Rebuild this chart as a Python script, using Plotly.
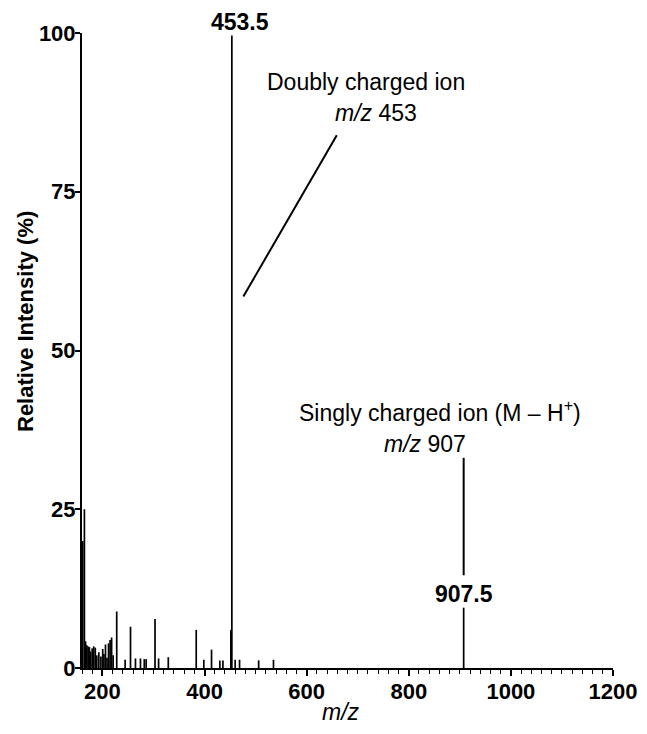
import plotly.graph_objects as go

# Peak list (m/z, relative intensity %)
mz = [161.5, 164.7, 167, 169.5, 172, 174.5, 177, 180, 183, 186, 189, 193, 197, 200.6,
      203, 206, 209, 212, 215, 218, 221, 228, 244.5, 255, 264.7, 274.5, 282, 285.7,
      303, 310, 329, 383.7, 398.6, 413.7, 430, 436, 451.5, 453.5, 460, 468.6, 506, 535, 907.5]
intensity = [20, 25, 4.2, 3.6, 3.4, 3.3, 2.6, 3.1, 3.4, 3.2, 2.0, 2.5, 1.8, 3.0,
             2.2, 3.7, 1.6, 3.9, 4.4, 4.8, 2.0, 8.9, 1.3, 6.5, 1.5, 1.5, 1.4, 1.4,
             7.7, 1.5, 1.7, 6.0, 1.3, 2.9, 1.2, 1.2, 6.0, 100, 1.3, 1.3, 1.2, 1.3, 9.5]

x_ticks = [200, 400, 600, 800, 1000, 1200]
y_ticks = [0, 25, 50, 75, 100]

# stick spectrum built from the data
xs, ys = [], []
for m, h in zip(mz, intensity):
    xs += [m, m, None]
    ys += [0, h, None]

fig = go.Figure()
fig.add_trace(go.Scatter(x=xs, y=ys, mode="lines",
                         line=dict(color="black", width=1.7),
                         hoverinfo="skip", showlegend=False))

FONT = "Liberation Sans, Arial, Helvetica, sans-serif"
W, H = 647, 734
L, R, T, B = 82, 34, 33, 66

fig.update_layout(
    width=W, height=H,
    margin=dict(l=L, r=R, t=T, b=B),
    paper_bgcolor="white", plot_bgcolor="white",
    font=dict(family=FONT, color="black"),
    xaxis=dict(range=[160, 1200], tickvals=x_ticks,
               ticktext=[f"<b>{v}</b>" for v in x_ticks],
               ticks="outside", ticklen=6, tickwidth=1.5, tickcolor="black",
               minor=dict(dtick=20, tick0=160, ticks="outside", ticklen=4,
                          tickwidth=1, tickcolor="black", showgrid=False),
               showline=True, linecolor="black", linewidth=2,
               showgrid=False, zeroline=False, automargin=False,
               ticklabelstandoff=-3,
               tickfont=dict(size=22, family=FONT)),
    yaxis=dict(range=[0, 100], tickvals=y_ticks,
               ticktext=[f"<b>{v}</b>" for v in y_ticks],
               ticks="outside", ticklen=5, tickwidth=1.5, tickcolor="black",
               showline=True, linecolor="black", linewidth=2,
               showgrid=False, zeroline=False, automargin=False,
               ticklabelstandoff=-5,
               tickfont=dict(size=22, family=FONT)),
)

ann = []
# peak labels
ann.append(dict(x=453.5, y=100, xref="x", yref="y", text="<b>453.5</b>",
                showarrow=False, xanchor="center", yanchor="bottom", xshift=8, yshift=-3,
                bgcolor="white", borderpad=0, font=dict(size=23)))
ann.append(dict(x=907.5, y=9.5, xref="x", yref="y", text="<b>907.5</b>",
                showarrow=False, xanchor="center", yanchor="bottom", yshift=-1,
                font=dict(size=23)))
# doubly charged annotation (pixel positions converted below)
ann.append(dict(x=265, y=82, xref="paper", yref="paper", text="Doubly charged ion",
                showarrow=False, xanchor="left", yanchor="middle", font=dict(size=23)))
ann.append(dict(x=376, y=113, xref="paper", yref="paper", text="<i>m/z</i> 453",
                showarrow=False, xanchor="center", yanchor="middle", font=dict(size=23)))
# singly charged annotation
ann.append(dict(x=297, y=411, xref="paper", yref="paper",
                text="Singly charged ion (M – H<sup>+</sup>)",
                showarrow=False, xanchor="left", yanchor="middle", font=dict(size=23)))
ann.append(dict(x=425, y=444, xref="paper", yref="paper", text="<i>m/z</i> 907",
                showarrow=False, xanchor="center", yanchor="middle", font=dict(size=23)))
# axis titles
ann.append(dict(x=25, y=322, xref="paper", yref="paper",
                text="<b>Relative Intensity (%)</b>", textangle=-90,
                showarrow=False, xanchor="center", yanchor="middle", font=dict(size=22)))
ann.append(dict(x=341, y=712, xref="paper", yref="paper",
                text="<i>m/z</i>", showarrow=False, xanchor="center", yanchor="middle",
                font=dict(size=23)))

# convert pixel (from top-left) positions to paper fractions
for a in ann:
    if a["xref"] == "paper":
        a["x"] = (a["x"] - L) / (W - L - R)
        a["y"] = ((H - a["y"]) - B) / (H - T - B)
fig.update_layout(annotations=ann)

# leader lines
fig.add_shape(type="line", xref="x", yref="y", x0=476, y0=58.5, x1=659, y1=83.9,
              line=dict(color="black", width=2))
fig.add_shape(type="line", xref="x", yref="y", x0=907.5, y0=14.6, x1=907.5, y1=33.1,
              line=dict(color="black", width=2))

fig.write_html("out.html", config={"displayModeBar": False},
               post_script="document.body.style.margin='0';document.body.style.overflow='hidden';")
